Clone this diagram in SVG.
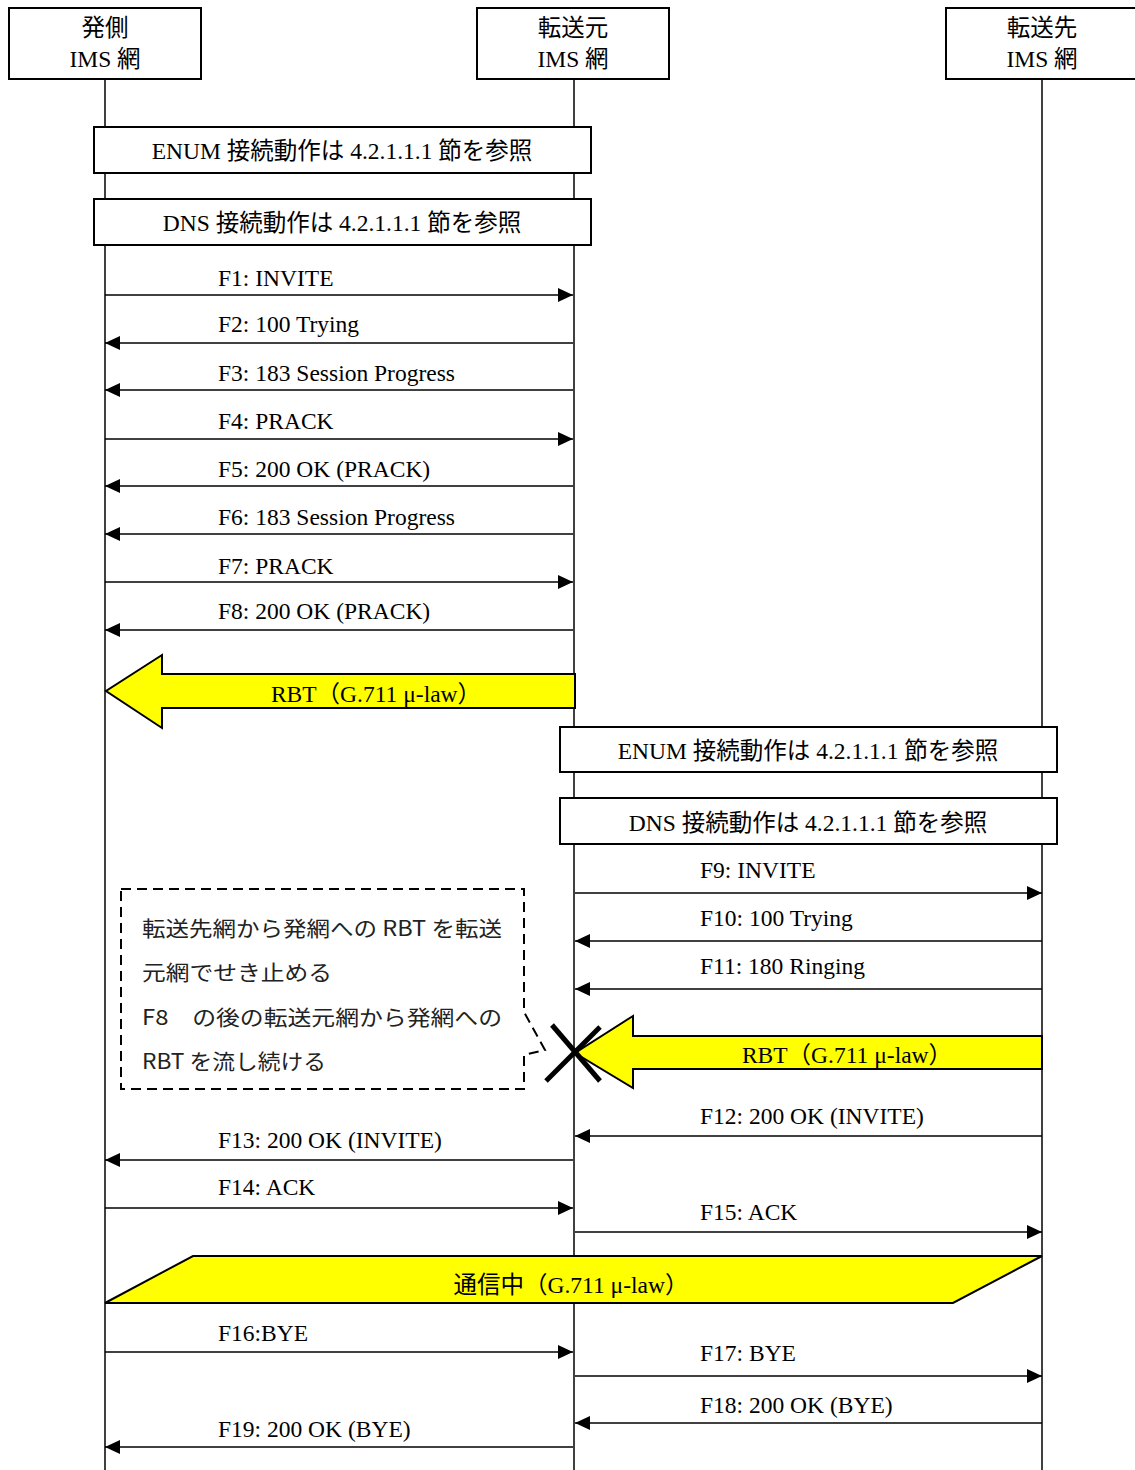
<svg xmlns="http://www.w3.org/2000/svg" width="1135" height="1470" viewBox="0 0 1135 1470">
<style>
text{font-family:"Liberation Serif","Noto Sans CJK JP",serif;font-size:23.5px;fill:#000}
.c{text-anchor:middle}
.box{fill:#fff;stroke:#000;stroke-width:2}
.life{stroke:#000;stroke-width:1.5;fill:none}
.msg{stroke:#000;stroke-width:1.5;fill:none}
.r{marker-end:url(#ah)}
.y{fill:#ffff00;stroke:#000;stroke-width:2}
.note{font-family:"Noto Sans CJK JP","Liberation Serif",sans-serif;font-size:21px;fill:#222}
</style>
<defs>
<marker id="ah" markerUnits="userSpaceOnUse" markerWidth="16" markerHeight="14" refX="15" refY="7" orient="auto">
<path d="M0,0 L15,7 L0,14 Z" fill="#000"/>
</marker>
</defs>
<rect width="1135" height="1470" fill="#fff"/>

<g id="lifelines">
<line class="life" x1="105" y1="79" x2="105" y2="1470"/>
<line class="life" x1="574" y1="79" x2="574" y2="1470"/>
<line class="life" x1="1042" y1="79" x2="1042" y2="1470"/>
</g>

<g id="node-orig">
<rect class="box" x="9" y="8" width="192" height="71"/>
<text class="c" x="105" y="36">発側</text>
<text class="c" x="105" y="67">IMS 網</text>
</g>
<g id="node-src">
<rect class="box" x="477" y="8" width="192" height="71"/>
<text class="c" x="573" y="36">転送元</text>
<text class="c" x="573" y="67">IMS 網</text>
</g>
<g id="node-dst">
<rect class="box" x="946" y="8" width="192" height="71"/>
<text class="c" x="1042" y="36">転送先</text>
<text class="c" x="1042" y="67">IMS 網</text>
</g>

<g id="enum1">
<rect class="box" x="94" y="127" width="497" height="46"/>
<text class="c" x="342" y="159">ENUM 接続動作は 4.2.1.1.1 節を参照</text>
</g>
<g id="dns1">
<rect class="box" x="94" y="199" width="497" height="46"/>
<text class="c" x="342" y="231">DNS 接続動作は 4.2.1.1.1 節を参照</text>
</g>
<g id="enum2">
<rect class="box" x="560" y="727" width="497" height="45"/>
<text class="c" x="808" y="759">ENUM 接続動作は 4.2.1.1.1 節を参照</text>
</g>
<g id="dns2">
<rect class="box" x="560" y="798" width="497" height="46"/>
<text class="c" x="808" y="831">DNS 接続動作は 4.2.1.1.1 節を参照</text>
</g>

<g id="connectors">
<line class="msg r" x1="105" y1="295" x2="573" y2="295"/>
<line class="msg r" x1="573" y1="343" x2="105" y2="343"/>
<line class="msg r" x1="573" y1="390" x2="105" y2="390"/>
<line class="msg r" x1="105" y1="439" x2="573" y2="439"/>
<line class="msg r" x1="573" y1="486" x2="105" y2="486"/>
<line class="msg r" x1="573" y1="534" x2="105" y2="534"/>
<line class="msg r" x1="105" y1="582" x2="573" y2="582"/>
<line class="msg r" x1="573" y1="630" x2="105" y2="630"/>
<line class="msg r" x1="575" y1="893" x2="1042" y2="893"/>
<line class="msg r" x1="1042" y1="941" x2="575" y2="941"/>
<line class="msg r" x1="1042" y1="989" x2="575" y2="989"/>
<line class="msg r" x1="1042" y1="1136" x2="575" y2="1136"/>
<line class="msg r" x1="573" y1="1160" x2="105" y2="1160"/>
<line class="msg r" x1="105" y1="1208" x2="573" y2="1208"/>
<line class="msg r" x1="575" y1="1232" x2="1042" y2="1232"/>
<line class="msg r" x1="105" y1="1352" x2="573" y2="1352"/>
<line class="msg r" x1="575" y1="1376" x2="1042" y2="1376"/>
<line class="msg r" x1="1042" y1="1423" x2="575" y2="1423"/>
<line class="msg r" x1="573" y1="1447" x2="105" y2="1447"/>
</g>

<g id="labels">
<text x="218" y="286">F1: INVITE</text>
<text x="218" y="332">F2: 100 Trying</text>
<text x="218" y="381">F3: 183 Session Progress</text>
<text x="218" y="429">F4: PRACK</text>
<text x="218" y="477">F5: 200 OK (PRACK)</text>
<text x="218" y="525">F6: 183 Session Progress</text>
<text x="218" y="574">F7: PRACK</text>
<text x="218" y="619">F8: 200 OK (PRACK)</text>
<text x="700" y="878">F9: INVITE</text>
<text x="700" y="926">F10: 100 Trying</text>
<text x="700" y="974">F11: 180 Ringing</text>
<text x="700" y="1124">F12: 200 OK (INVITE)</text>
<text x="218" y="1148">F13: 200 OK (INVITE)</text>
<text x="218" y="1195">F14: ACK</text>
<text x="700" y="1220">F15: ACK</text>
<text x="218" y="1341">F16:BYE</text>
<text x="700" y="1361">F17: BYE</text>
<text x="700" y="1413">F18: 200 OK (BYE)</text>
<text x="218" y="1437">F19: 200 OK (BYE)</text>
</g>

<g id="rbt1">
<path class="y" d="M575,674 H162 V655 L106,691 L162,728 V708 H575 Z"/>
<text class="c" x="376" y="702">RBT（G.711 μ-law）</text>
</g>

<g id="rbt2">
<path class="y" d="M1042,1036 H633 V1016 L575,1053 L633,1088 V1069 H1042 Z"/>
<text class="c" x="847" y="1063">RBT（G.711 μ-law）</text>
</g>

<g id="xmark">
<line x1="546" y1="1081" x2="600" y2="1027" stroke="#000" stroke-width="5"/>
<line x1="552" y1="1025" x2="600" y2="1081" stroke="#000" stroke-width="5"/>
</g>

<g id="note">
<path d="M121,889 H524 V1012 L545,1050 L524,1055 V1089 H121 Z" fill="#fff" stroke="#000" stroke-width="2" stroke-dasharray="10,6"/>
<text class="note" x="142" y="936" textLength="360" lengthAdjust="spacingAndGlyphs">転送先網から発網への RBT を転送</text>
<text class="note" x="142" y="980" textLength="190" lengthAdjust="spacingAndGlyphs">元網でせき止める</text>
<text class="note" x="142" y="1025" textLength="360" lengthAdjust="spacingAndGlyphs">F8　の後の転送元網から発網への</text>
<text class="note" x="142" y="1069" textLength="184" lengthAdjust="spacingAndGlyphs">RBT を流し続ける</text>
</g>

<g id="talk">
<path class="y" d="M105,1303 L193,1256 H1042 L953,1303 Z"/>
<text class="c" x="571" y="1293">通信中（G.711 μ-law）</text>
</g>
</svg>
